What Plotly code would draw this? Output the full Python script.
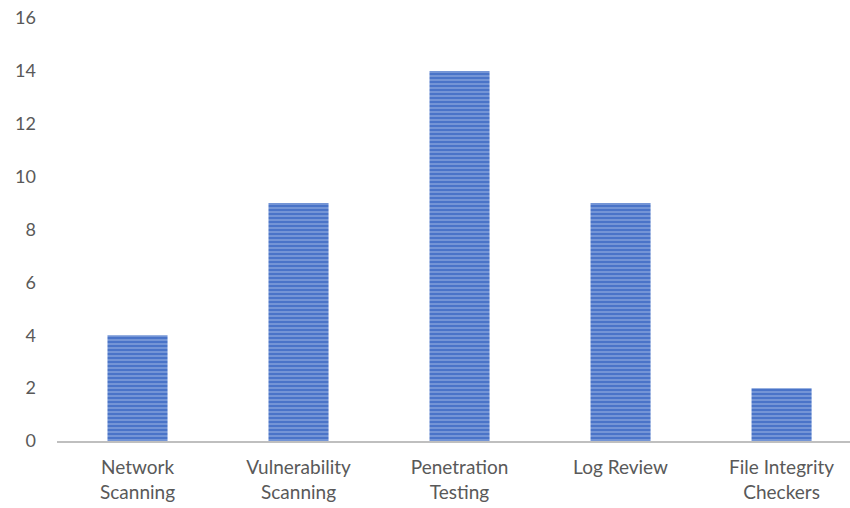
import plotly.graph_objects as go

categories = ["Network<br>Scanning", "Vulnerability<br>Scanning", "Penetration<br>Testing",
              "Log Review", "File Integrity<br>Checkers"]
values = [4, 9, 14, 9, 2]
y_ticks = [0, 2, 4, 6, 8, 10, 12, 14, 16]

fig = go.Figure(go.Bar(
    x=list(range(len(categories))),
    y=values,
    marker=dict(
        color="#4a74c8",
        line=dict(width=0),
        pattern=dict(shape="-", size=4, solidity=0.4, fgcolor="#b4c7ec", fillmode="overlay"),
    ),
))

fig.update_layout(
    width=850, height=508,
    margin=dict(l=57, r=0, t=18, b=67),
    paper_bgcolor="white", plot_bgcolor="white",
    bargap=0.627,
    showlegend=False,
    font=dict(family="Lato", color="#595959", size=19),
)
fig.update_xaxes(
    range=[-0.5, 4.425],
    tickmode="array", tickvals=list(range(len(categories))), ticktext=categories,
    showgrid=False, zeroline=False,
    showline=True, linecolor="#bfbfbf", linewidth=2,
    ticks="", ticklabelstandoff=8,
    tickfont=dict(size=19, color="#595959"),
)
fig.update_yaxes(
    range=[0, 16], tickvals=y_ticks,
    showgrid=False, zeroline=False, showline=False,
    ticks="", ticklabelstandoff=20,
    tickfont=dict(size=18, color="#595959"),
)

fig.write_html("out.html")
